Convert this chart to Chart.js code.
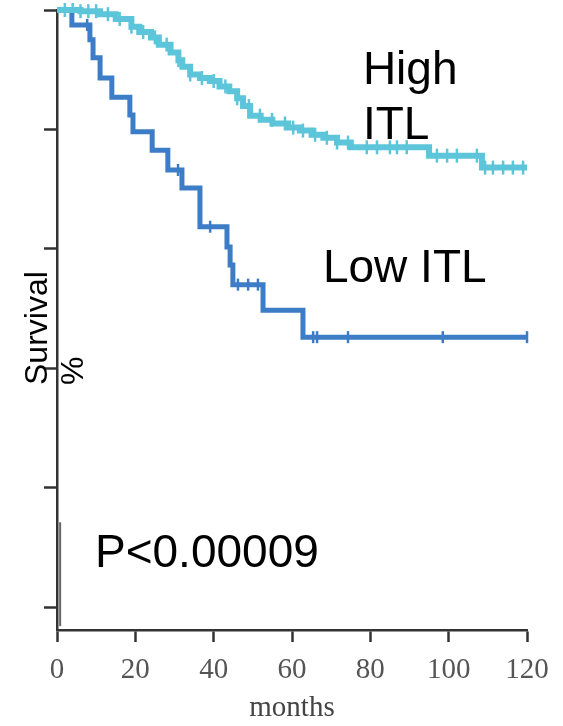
<!DOCTYPE html>
<html>
<head>
<meta charset="utf-8">
<script src="https://cdn.jsdelivr.net/npm/chart.js@4.4.1/dist/chart.umd.min.js"></script>
<style>
  html, body { margin: 0; padding: 0; background: #fff; }
  #wrap { width: 563px; height: 726px; position: relative; }
</style>
</head>
<body>
<div id="wrap"><canvas id="kmChart"></canvas></div>
<script>
// Kaplan-Meier curves (months, survival %)
const lowMonths = [0, 3.8, 8.4, 9.2, 11, 14, 18.6, 19.4, 24.3, 28.3, 31.9, 36.5, 43.4, 44.2, 44.9, 52.6, 62.8, 120];
const lowSurvival = [100, 97.5, 95, 92, 88.6, 85.4, 82.4, 79.6, 76.5, 73.2, 70.2, 63.7, 60.3, 57.3, 54, 49.7, 45.2, 45.2];
const lowCensored = [7.7, 30.9, 39.1, 46.2, 48.8, 51.3, 65.4, 66.4, 74.3, 98.5, 120];

const highMonths = [0, 6, 11, 15, 19, 21, 24, 26, 29, 31, 32, 34, 36.5, 39, 41.5, 44, 46, 47.5, 49.3, 52, 55, 59, 62, 65, 68, 71.5, 75, 95, 108.5, 120];
const highSurvival = [100, 99.8, 99.3, 98.5, 97.2, 96.3, 95.4, 94.2, 92.9, 91.6, 90.5, 89.2, 88.6, 88.1, 87.2, 86.4, 85.2, 83.9, 82.3, 81.6, 81, 80.3, 79.8, 79.1, 78.6, 77.8, 77, 75.6, 73.6, 73.6];
const highCensored = [2, 4, 6, 8, 10, 13, 16, 19, 22, 25, 28, 31, 34, 37, 40, 43, 46, 49, 51.8, 54.9, 58.2, 60.3, 62.8, 65.9, 68.9, 71.5, 74.3, 79.1, 81.7, 85, 86.8, 89.3, 97, 99.6, 102.1, 107.2, 109.3, 111.3, 113.9, 116.4, 119];

const xTicks = [0, 20, 40, 60, 80, 100, 120];
const yTicks = [0, 20, 40, 60, 80, 100];

const lowColor = '#3d7cc6';
const highColor = '#5cc5da';

// value of the step curve at month t
const stepValue = (months, surv, t) => {
  let v = surv[0];
  for (let i = 0; i < months.length; i++) {
    if (months[i] <= t) v = surv[i];
  }
  return v;
};

const toPoints = (months, surv) => months.map((m, i) => ({x: m, y: surv[i]}));
const censorPoints = (marks, months, surv) => marks.map(m => ({x: m, y: stepValue(months, surv, m)}));

// free text on the plot, placed in data units
const textPlugin = {
  id: 'kmText',
  afterDraw(chart) {
    const {ctx, scales: {x, y}} = chart;
    ctx.save();
    ctx.fillStyle = '#000';
    ctx.textBaseline = 'alphabetic';
    ctx.textAlign = 'left';
    ctx.font = '46px "Liberation Sans", Arial, sans-serif';
    ctx.fillText('High', x.getPixelForValue(78.1), y.getPixelForValue(87.6));
    ctx.fillText('ITL', x.getPixelForValue(78.1), y.getPixelForValue(78.4));
    ctx.fillText('Low ITL', x.getPixelForValue(67.9), y.getPixelForValue(54.4));
    ctx.fillText('P<0.00009', x.getPixelForValue(9.7), y.getPixelForValue(6.7));

    // stray axis fragment near the origin
    ctx.strokeStyle = '#666';
    ctx.lineWidth = 2;
    ctx.beginPath();
    ctx.moveTo(x.getPixelForValue(0.8), y.getPixelForValue(14.2));
    ctx.lineTo(x.getPixelForValue(0.8), y.getPixelForValue(-3.2));
    ctx.stroke();

    // y axis title, two lines rotated
    ctx.font = '32px "Liberation Sans", Arial, sans-serif';
    ctx.translate(47, 385);
    ctx.rotate(-Math.PI / 2);
    ctx.fillText('Survival', 0, 0);
    ctx.fillText('%', 0, 36);
    ctx.restore();
  }
};

const ctx = document.getElementById('kmChart');
new Chart(ctx, {
  type: 'line',
  data: {
    datasets: [
      {
        label: 'High ITL',
        data: toPoints(highMonths, highSurvival),
        stepped: 'before',
        borderColor: highColor,
        borderWidth: 6,
        pointRadius: 0,
        fill: false,
        clip: false
      },
      {
        label: 'Low ITL',
        data: toPoints(lowMonths, lowSurvival),
        stepped: 'before',
        borderColor: lowColor,
        borderWidth: 5,
        pointRadius: 0,
        fill: false,
        clip: false
      },
      {
        label: 'High censored',
        data: censorPoints(highCensored, highMonths, highSurvival),
        showLine: false,
        pointStyle: 'line',
        rotation: 90,
        pointRadius: 7,
        borderColor: highColor,
        pointBorderWidth: 2.5,
        clip: false
      },
      {
        label: 'Low censored',
        data: censorPoints(lowCensored, lowMonths, lowSurvival),
        showLine: false,
        pointStyle: 'line',
        rotation: 90,
        pointRadius: 6,
        borderColor: lowColor,
        pointBorderWidth: 2.5,
        clip: false
      }
    ]
  },
  options: {
    responsive: true,
    maintainAspectRatio: false,
    animation: false,
    layout: {
      padding: {top: 10, right: 36, bottom: 0, left: 0}
    },
    plugins: {
      legend: {display: false},
      tooltip: {enabled: false}
    },
    scales: {
      x: {
        type: 'linear',
        min: 0,
        max: 120,
        afterBuildTicks: (scale) => { scale.ticks = xTicks.map(v => ({value: v})); },
        afterFit: (scale) => { scale.height = 96; },
        ticks: {
          color: '#555',
          padding: 11,
          font: {family: '"Liberation Serif", "Times New Roman", serif', size: 29}
        },
        grid: {
          drawOnChartArea: false,
          drawTicks: true,
          tickLength: 12,
          tickWidth: 2.5,
          tickColor: '#333'
        },
        border: {color: '#333', width: 2.5},
        title: {
          display: true,
          text: 'months',
          color: '#444',
          padding: {top: 4, bottom: 0},
          font: {family: '"Liberation Serif", "Times New Roman", serif', size: 29}
        }
      },
      y: {
        type: 'linear',
        min: -3.85,
        max: 100,
        afterBuildTicks: (scale) => { scale.ticks = yTicks.map(v => ({value: v})); },
        afterFit: (scale) => { scale.width = 57; },
        ticks: {display: false},
        grid: {
          drawOnChartArea: false,
          drawTicks: true,
          tickLength: 13,
          tickWidth: 2.5,
          tickColor: '#333'
        },
        border: {color: '#333', width: 2.5}
      }
    }
  },
  plugins: [textPlugin]
});
</script>
</body>
</html>
